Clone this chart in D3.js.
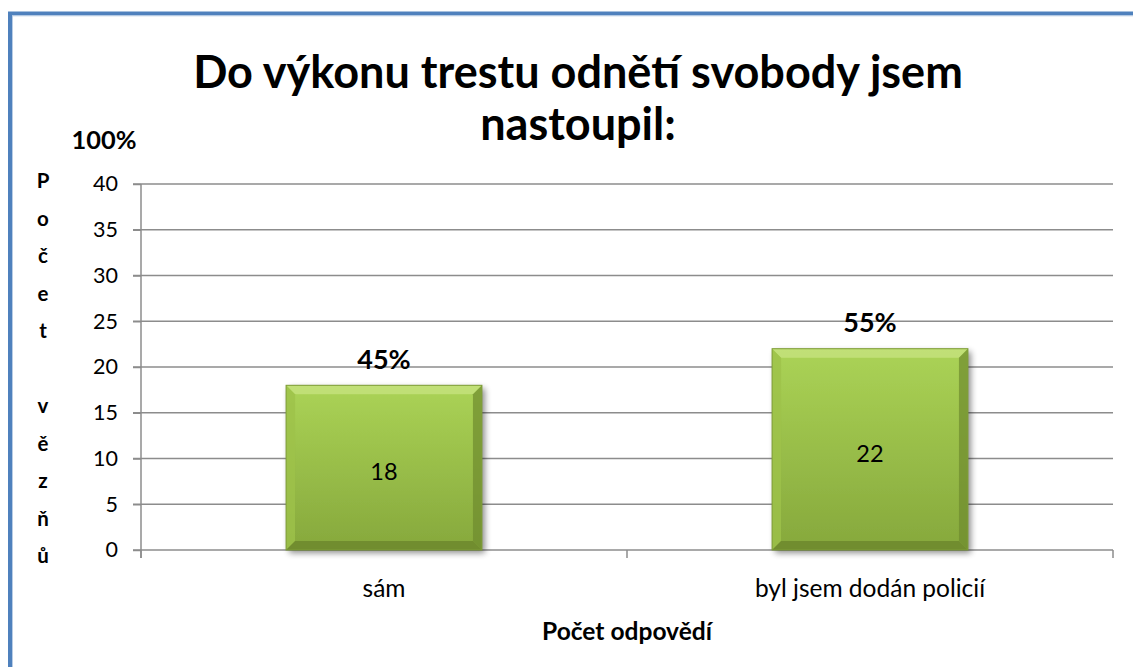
<!DOCTYPE html>
<html><head><meta charset="utf-8">
<script src="https://cdn.jsdelivr.net/npm/d3@7"></script>
<style>body{margin:0;background:#fff;}svg{display:block;}</style>
</head><body>
<svg id="c" width="1133" height="667"></svg>
<script>
const categories = ["sám", "byl jsem dodán policií"];
const values = [18, 22];
const percents = ["45%", "55%"];
const yTicks = [0, 5, 10, 15, 20, 25, 30, 35, 40];
const titleLines = ["Do výkonu trestu odnětí svobody jsem", "nastoupil:"];
const yLabel = "Počet vězňů";
const xLabel = "Počet odpovědí";
const topLabel = "100%";

const svg = d3.select("#c");
const font = "Lato, 'Open Sans', sans-serif";

function fit(sel, target) {
  const fs = parseFloat(sel.attr("font-size"));
  const w = sel.node().getComputedTextLength();
  if (w > 0) sel.attr("font-size", (fs * target / w).toFixed(2));
  return sel;
}

// frame
svg.append("rect").attr("x", 0).attr("y", 0).attr("width", 1133).attr("height", 667).attr("fill", "#fff");
svg.append("path").attr("d", "M10,667 L10,13.5 L1133,13.5").attr("fill", "none").attr("stroke", "#4F81BD").attr("stroke-width", 4);
svg.append("path").attr("d", "M12.5,667 L12.5,15.8 L1133,15.8").attr("fill", "none").attr("stroke", "#B9CDE5").attr("stroke-width", 1);

const x = d3.scaleBand().domain(categories).range([141, 1113]).paddingInner(0.597).paddingOuter(0.2985);
const y = d3.scaleLinear().domain([0, 40]).range([550, 184]);

// defs
const defs = svg.append("defs");
const g1 = defs.append("linearGradient").attr("id", "gb").attr("x1", 0).attr("y1", 0).attr("x2", 0).attr("y2", 1);
g1.append("stop").attr("offset", "0%").attr("stop-color", "#ABD356");
g1.append("stop").attr("offset", "100%").attr("stop-color", "#86A83C");
const f = defs.append("filter").attr("id", "sh").attr("x", "-10%").attr("y", "-10%").attr("width", "130%").attr("height", "130%");
f.append("feGaussianBlur").attr("in", "SourceAlpha").attr("stdDeviation", 3).attr("result", "b");
f.append("feOffset").attr("in", "b").attr("dx", 3).attr("dy", 3).attr("result", "o");
f.append("feComponentTransfer").attr("in", "o").attr("result", "o2").append("feFuncA").attr("type", "linear").attr("slope", 0.45);
const m = f.append("feMerge");
m.append("feMergeNode").attr("in", "o2");
m.append("feMergeNode").attr("in", "SourceGraphic");

// gridlines
const grid = svg.append("g");
grid.selectAll("line").data(yTicks).join("line")
  .attr("x1", 133).attr("x2", 1113)
  .attr("y1", d => y(d)).attr("y2", d => y(d))
  .attr("stroke", "#8C8C8C").attr("stroke-width", 1.5);

// y axis
const ya = svg.append("g").attr("transform", "translate(141,0)")
  .call(d3.axisLeft(y).tickValues(yTicks).tickSize(8).tickPadding(15));
ya.select(".domain").attr("stroke", "#8C8C8C").attr("stroke-width", 1.5).attr("d", `M0,${y(0) + 8}V${y(40)}`);
ya.selectAll(".tick line").attr("stroke", "#8C8C8C").attr("stroke-width", 1.5);
ya.selectAll(".tick text").attr("font-family", font).attr("font-size", 21.5).attr("fill", "#000");

// x axis
const xa = svg.append("g").attr("transform", `translate(0,${y(0)})`)
  .call(d3.axisBottom(x).tickSize(0).tickPadding(0));
xa.select(".domain").remove();
xa.selectAll(".tick text").attr("font-family", font).attr("font-size", 24.5).attr("fill", "#000")
  .attr("dy", null).attr("y", 47);
// category separator ticks
const seps = [141, (x(categories[0]) + x.bandwidth() + x(categories[1])) / 2, 1113];
svg.append("g").selectAll("line").data(seps).join("line")
  .attr("x1", d => d).attr("x2", d => d).attr("y1", y(0)).attr("y2", y(0) + 8)
  .attr("stroke", "#8C8C8C").attr("stroke-width", 1.5);

// bars
const bars = svg.append("g").selectAll("g").data(values).join("g");
bars.each(function(d, i) {
  const g = d3.select(this);
  const x0 = x(categories[i]), w = x.bandwidth(), y0 = y(d), y1 = y(0), b = 9;
  g.append("rect").attr("x", x0).attr("y", y0).attr("width", w).attr("height", y1 - y0)
    .attr("fill", "url(#gb)").attr("filter", "url(#sh)");
  g.append("polygon").attr("points", `${x0},${y0} ${x0 + w},${y0} ${x0 + w - b},${y0 + b} ${x0 + b},${y0 + b}`).attr("fill", "#C4E27D").attr("opacity", 0.85);
  g.append("polygon").attr("points", `${x0},${y0} ${x0 + b},${y0 + b} ${x0 + b},${y1 - b} ${x0},${y1}`).attr("fill", "#9DC24A").attr("opacity", 0.8);
  g.append("polygon").attr("points", `${x0 + w},${y0} ${x0 + w - b},${y0 + b} ${x0 + w - b},${y1 - b} ${x0 + w},${y1}`).attr("fill", "#6E8A2E").attr("opacity", 0.7);
  g.append("polygon").attr("points", `${x0},${y1} ${x0 + b},${y1 - b} ${x0 + w - b},${y1 - b} ${x0 + w},${y1}`).attr("fill", "#6B862C").attr("opacity", 0.8);
  g.append("rect").attr("x", x0).attr("y", y0).attr("width", w).attr("height", y1 - y0)
    .attr("fill", "none").attr("stroke", "#7E9C38").attr("stroke-width", 1);
  g.append("text").attr("x", x0 + w / 2).attr("y", (y0 + y1) / 2 + 4).attr("dy", "0.35em")
    .attr("text-anchor", "middle").attr("font-family", font).attr("font-size", 23.5).text(d);
  g.append("text").attr("x", x0 + w / 2).attr("y", y0 - 26).attr("dy", "0.35em")
    .attr("text-anchor", "middle").attr("font-family", font).attr("font-size", 27).attr("font-weight", "bold").text(percents[i]);
});

// title
const t1 = svg.append("text").attr("x", 578).attr("y", 88).attr("text-anchor", "middle")
  .attr("font-family", font).attr("font-size", 40).attr("font-weight", "bold").text(titleLines[0]);
fit(t1, 770);
svg.append("text").attr("x", 578).attr("y", 140).attr("text-anchor", "middle")
  .attr("font-family", font).attr("font-size", t1.attr("font-size")).attr("font-weight", "bold").text(titleLines[1]);

// 100%
const tl = svg.append("text").attr("x", 104).attr("y", 149).attr("text-anchor", "middle")
  .attr("font-family", font).attr("font-size", 20).attr("font-weight", "bold").text(topLabel);
fit(tl, 65);

// vertical y label
svg.append("g").selectAll("text").data(Array.from(yLabel)).join("text")
  .attr("x", 43).attr("y", (d, i) => 181 + i * 37.5).attr("dy", "0.35em").attr("text-anchor", "middle")
  .attr("font-family", font).attr("font-size", 20.5).attr("font-weight", "bold").text(d => d);

// x label
const xl = svg.append("text").attr("x", 627).attr("y", 640).attr("text-anchor", "middle")
  .attr("font-family", font).attr("font-size", 18).attr("font-weight", "bold").text(xLabel);
fit(xl, 170);
</script>
</body></html>
